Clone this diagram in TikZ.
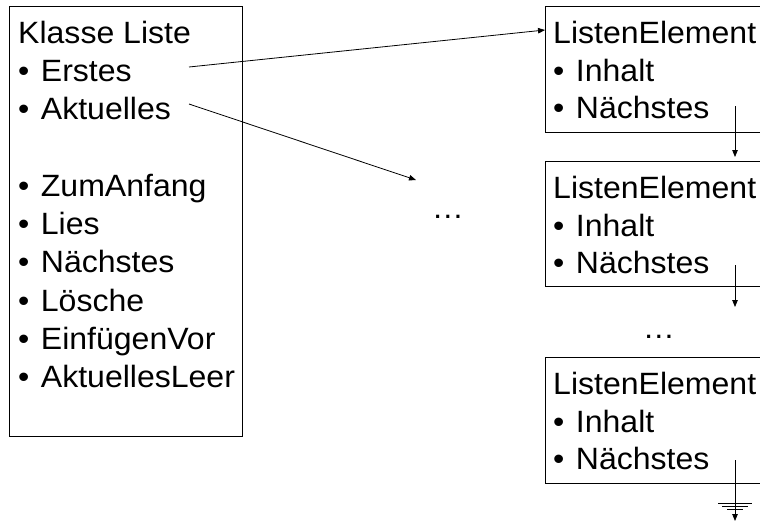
\documentclass[tikz,border=0pt]{standalone}
\usepackage{fontspec}
\setmainfont{Liberation Sans}[FakeStretch=1.04]
\usetikzlibrary{arrows.meta}

\begin{document}
\begin{tikzpicture}[x=1pt,y=-1pt,
  frame/.style={draw=black,line width=0.9pt,inner sep=0pt,anchor=north west},
  txt/.style={anchor=base west,inner sep=0pt,font=\fontsize{30.8}{36}\selectfont},
  dots/.style={anchor=base,inner sep=0pt,font=\fontsize{30.8}{36}\selectfont},
  link/.style={line width=0.8pt,-{Triangle[length=7pt,width=5.5pt]}},
  gnd/.style={line width=0.8pt}
]
\newcommand{\bul}[1]{\textbullet\hspace{11.5pt}#1}
\useasboundingbox (0,0) rectangle (760,522);
\clip (0,0) rectangle (760,522);

% class box
\node[frame,minimum width=233.5pt,minimum height=429.5pt] (liste) at (8.5,6) {};
\node[txt] (kl)   at (18,43)    {Klasse Liste};
\node[txt] (erst) at (18,81.3)  {\bul{Erstes}};
\node[txt] (akt)  at (18,119.6) {\bul{Aktuelles}};
\node[txt] (zum)  at (18,196.2) {\bul{ZumAnfang}};
\node[txt] (lies) at (18,234.5) {\bul{Lies}};
\node[txt] (nae)  at (18,272.8) {\bul{Nächstes}};
\node[txt] (loe)  at (18,311.1) {\bul{Lösche}};
\node[txt] (einf) at (18,349.4) {\bul{EinfügenVor}};
\node[txt] (leer) at (18,387.7) {\bul{AktuellesLeer}};

% list elements
\node[frame,minimum width=230pt,minimum height=126pt] (e1) at (545,6) {};
\node[txt] (e1a) at (553,43)    {ListenElement};
\node[txt] (e1b) at (553,81.5)  {\bul{Inhalt}};
\node[txt] (e1c) at (553,118)   {\bul{Nächstes}};

\node[frame,minimum width=230pt,minimum height=125pt] (e2) at (545,161) {};
\node[txt] (e2a) at (553,198)   {ListenElement};
\node[txt] (e2b) at (553,236.5) {\bul{Inhalt}};
\node[txt] (e2c) at (553,273)   {\bul{Nächstes}};

\node[frame,minimum width=230pt,minimum height=126pt] (e3) at (545,357) {};
\node[txt] (e3a) at (553,394)   {ListenElement};
\node[txt] (e3b) at (553,432.5) {\bul{Inhalt}};
\node[txt] (e3c) at (553,469)   {\bul{Nächstes}};

% ellipses
\node[dots] (mid)  at (448,218) {…};
\node[dots] (more) at (659,338) {…};

% pointer ends
\coordinate (pErst) at (189,67);
\coordinate (pAkt)  at (189,104);
\coordinate (tAkt)  at (416,180);
\coordinate (tE1)   at (545,30);
\coordinate (n1s) at (735,106);
\coordinate (n1t) at (735,157);
\coordinate (n2s) at (735,265);
\coordinate (n2t) at (735,307);
\coordinate (n3s) at (735,460);
\coordinate (n3t) at (735,521);

\draw[link] (pErst) -- (tE1);
\draw[link] (pAkt) -- (tAkt);
\draw[link] (n1s) -- (n1t);
\draw[link] (n2s) -- (n2t);
\draw[link] (n3s) -- (n3t);

% ground symbol (null pointer)
\draw[gnd] (718,503) -- (752,503);
\draw[gnd] (722,506.3) -- (748,506.3);
\draw[gnd] (727,509.6) -- (743,509.6);
\end{tikzpicture}
\end{document}
